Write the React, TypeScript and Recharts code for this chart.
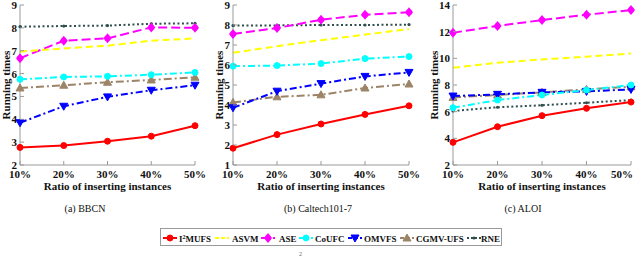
import React from 'react';
import { LineChart, Line, XAxis, YAxis } from 'recharts';

const categories = ['10%', '20%', '30%', '40%', '50%'];
const seriesNames = ['I²MUFS', 'ASVM', 'ASE', 'CoUFC', 'OMVFS', 'CGMV-UFS', 'RNE'];

// (a) BBCN
const bbcnI2MUFS = [2.77, 2.85, 3.04, 3.26, 3.72];
const bbcnASVM = [6.96, 7.1, 7.22, 7.44, 7.54];
const bbcnASE = [6.67, 7.44, 7.54, 8.02, 8.0];
const bbcnCoUFC = [5.75, 5.85, 5.88, 5.95, 6.05];
const bbcnOMVFS = [3.85, 4.57, 4.98, 5.27, 5.49];
const bbcnCGMV = [5.37, 5.49, 5.62, 5.72, 5.84];
const bbcnRNE = [8.05, 8.08, 8.1, 8.18, 8.2];

// (b) Caltech101-7
const calI2MUFS = [1.84, 2.52, 3.05, 3.53, 3.96];
const calASVM = [6.61, 6.94, 7.24, 7.52, 7.8];
const calASE = [7.55, 7.85, 8.26, 8.51, 8.64];
const calCoUFC = [5.94, 5.97, 6.07, 6.32, 6.42];
const calOMVFS = [3.86, 4.69, 5.07, 5.43, 5.63];
const calCGMV = [4.13, 4.41, 4.51, 4.85, 5.05];
const calRNE = [7.97, 7.98, 8.0, 8.0, 8.02];

// (c) ALOI
const aloiI2MUFS = [3.7, 4.87, 5.7, 6.25, 6.72];
const aloiASVM = [9.3, 9.67, 9.92, 10.12, 10.37];
const aloiASE = [11.92, 12.43, 12.87, 13.27, 13.62];
const aloiCoUFC = [6.3, 6.87, 7.25, 7.62, 8.0];
const aloiOMVFS = [7.17, 7.3, 7.45, 7.52, 7.67];
const aloiCGMV = [7.07, 7.25, 7.45, 7.67, 7.87];
const aloiRNE = [6.05, 6.33, 6.48, 6.67, 6.87];

const ticksA = [2, 3, 4, 5, 6, 7, 8, 9];
const ticksB = [1, 2, 3, 4, 5, 6, 7, 8, 9];
const ticksC = [2, 4, 6, 8, 10, 12, 14];

const FRAME = '#9a9a9a';
const FONT = 'Liberation Serif, Tinos, Times New Roman, serif';
const serif: any = { fontFamily: FONT };

const styles = [
  { color: '#ff0000', dash: undefined as string | undefined, marker: 'circle' },
  { color: '#ffff00', dash: '7 4', marker: 'none' },
  { color: '#ff00ff', dash: '9 4', marker: 'star' },
  { color: '#00ffff', dash: '7 3 2 3', marker: 'circle' },
  { color: '#0000ff', dash: '7 3 2 3', marker: 'tridown' },
  { color: '#9c8468', dash: '8 3 2 3', marker: 'triup' },
  { color: '#2f4f4f', dash: '2 2.5', marker: 'dot' },
];

function Marker({ cx, cy, kind, color }: any) {
  if (cx == null || cy == null) return null;
  switch (kind) {
    case 'circle':
      return <circle cx={cx} cy={cy} r={3} fill={color} stroke={color} />;
    case 'star':
      return (
        <g>
          <polygon points={`${cx},${cy - 5} ${cx + 4},${cy} ${cx},${cy + 5} ${cx - 4},${cy}`} fill={color} />
          <circle cx={cx} cy={cy} r={3} fill={color} />
        </g>
      );
    case 'tridown':
      return <polygon points={`${cx - 4},${cy - 3} ${cx + 4},${cy - 3} ${cx},${cy + 4}`} fill={color} stroke={color} />;
    case 'triup':
      return <polygon points={`${cx - 4},${cy + 3} ${cx + 4},${cy + 3} ${cx},${cy - 4}`} fill={color} stroke={color} />;
    case 'dot':
      return <circle cx={cx} cy={cy} r={1.6} fill={color} />;
    default:
      return null;
  }
}

const makeBottomTick = (squeezeLast: boolean) => (p: any) => {
  const last = squeezeLast && p.index === categories.length - 1;
  return (
    <g>
      <line x1={p.x} x2={p.x} y1={p.y} y2={p.y - 4} stroke={FRAME} />
      <text
        x={last ? p.x + 2 : p.x}
        y={p.y + 13}
        textAnchor={last ? 'end' : 'middle'}
        style={serif}
        fontWeight="bold"
        fontSize={11}
        fill="#111"
      >
        {p.payload.value}
      </text>
    </g>
  );
};
const TopTick = (p: any) => <line x1={p.x} x2={p.x} y1={p.y} y2={p.y + 4} stroke={FRAME} />;
const LeftTick = (p: any) => (
  <g>
    <line x1={p.x} x2={p.x + 4} y1={p.y} y2={p.y} stroke={FRAME} />
    <text x={p.x - 3} y={p.y + 4} textAnchor="end" style={serif} fontWeight="bold" fontSize={11} fill="#111">
      {p.payload.value}
    </text>
  </g>
);
const RightTick = (p: any) => <line x1={p.x} x2={p.x - 4} y1={p.y} y2={p.y} stroke={FRAME} />;

function Panel({ left, width, yWidth, domain, ticks, titleDx, caption, captionX, squeezeLast, series }: any) {
  const rows = categories.map((c, i) => {
    const r: any = { x: c };
    series.forEach((s: number[], k: number) => (r['s' + k] = s[i]));
    return r;
  });
  const plotLeft = yWidth;
  const plotRight = width - 15;
  const xCenter = (plotLeft + plotRight) / 2;
  return (
    <div style={{ position: 'absolute', left, top: 0 }}>
      <LineChart width={width} height={225} data={rows} margin={{ top: 5, right: 15, bottom: 5, left: 0 }}>
        <XAxis
          dataKey="x"
          xAxisId="b"
          height={55}
          interval={0}
          tickSize={0}
          tickMargin={0}
          tickLine={false}
          axisLine={{ stroke: FRAME }}
          tick={makeBottomTick(!!squeezeLast)}
          label={{
            content: (lp: any) => {
              const vb = lp.viewBox || {};
              const y0 = vb.y != null ? vb.y : 165;
              return (
                <g>
                  <text x={xCenter} y={y0 + 25} textAnchor="middle" style={serif} fontWeight="bold" fontSize={11} fill="#111">
                    Ratio of inserting instances
                  </text>
                  <text x={captionX} y={y0 + 47} textAnchor="middle" style={serif} fontSize={10} fill="#111">
                    {caption}
                  </text>
                </g>
              );
            },
          }}
        />
        <XAxis
          dataKey="x"
          xAxisId="t"
          orientation="top"
          height={0}
          interval={0}
          tickSize={0}
          tickMargin={0}
          tickLine={false}
          axisLine={{ stroke: FRAME }}
          tick={TopTick}
        />
        <YAxis
          yAxisId="l"
          type="number"
          width={yWidth}
          domain={domain}
          ticks={ticks}
          interval={0}
          allowDataOverflow
          tickSize={0}
          tickMargin={0}
          tickLine={false}
          axisLine={{ stroke: FRAME }}
          tick={LeftTick}
          label={{
            content: () => {
              const cx = plotLeft - titleDx;
              const cy = 85;
              return (
                <text
                  x={cx}
                  y={cy}
                  transform={`rotate(-90 ${cx} ${cy})`}
                  textAnchor="middle"
                  style={serif}
                  fontWeight="bold"
                  fontSize={11}
                  fill="#111"
                >
                  Running times
                </text>
              );
            },
          }}
        />
        <YAxis
          yAxisId="r"
          orientation="right"
          type="number"
          width={0}
          domain={domain}
          ticks={ticks}
          interval={0}
          allowDataOverflow
          tickSize={0}
          tickMargin={0}
          tickLine={false}
          axisLine={{ stroke: FRAME }}
          tick={RightTick}
        />
        {styles
          .map((st, k) => ({ st, k }))
          .reverse()
          .map(({ st, k }) => (
            <Line
              key={k}
              xAxisId="b"
              yAxisId="l"
              dataKey={'s' + k}
              name={seriesNames[k]}
              stroke={st.color}
              strokeWidth={2}
              strokeDasharray={st.dash}
              isAnimationActive={false}
              dot={(dp: any) => <Marker key={dp.index} cx={dp.cx} cy={dp.cy} kind={st.marker} color={st.color} />}
              activeDot={false}
            />
          ))}
      </LineChart>
    </div>
  );
}

const legendPos = [
  { lx: 2, tx: 18 },
  { lx: 54, tx: 71 },
  { lx: 100, tx: 118 },
  { lx: 138, tx: 154 },
  { lx: 187, tx: 203 },
  { lx: 239, tx: 255 },
  { lx: 306, tx: 320 },
];

function Legend() {
  return (
    <div
      style={{
        position: 'absolute',
        left: 160,
        top: 228,
        width: 342,
        height: 18,
        border: `1px solid ${FRAME}`,
        background: '#fff',
        boxSizing: 'border-box',
      }}
    >
      <svg width={342} height={18} style={{ position: 'absolute', left: 0, top: 0 }}>
        {styles.map((st, k) => (
          <g key={k}>
            <line
              x1={legendPos[k].lx}
              x2={legendPos[k].lx + 14}
              y1={9}
              y2={9}
              stroke={st.color}
              strokeWidth={2}
              strokeDasharray={st.dash ? (k === 6 ? '2 2' : '4 2') : undefined}
            />
            <Marker cx={legendPos[k].lx + 7} cy={9} kind={st.marker} color={st.color} />
            <text x={legendPos[k].tx} y={12.5} style={serif} fontWeight="bold" fontSize={9} fill="#111">
              {k === 0 ? (
                <>
                  I<tspan fontSize={6} dy={-3}>2</tspan>
                  <tspan dy={3}>MUFS</tspan>
                </>
              ) : (
                seriesNames[k]
              )}
            </text>
          </g>
        ))}
      </svg>
    </div>
  );
}

export default function App() {
  return (
    <div style={{ position: 'absolute', left: 0, top: 0, width: 640, height: 265, background: '#fff', overflow: 'hidden', fontFamily: FONT }}>
      <Panel
        left={0}
        width={210}
        yWidth={20}
        domain={[2, 9]}
        ticks={ticksA}
        titleDx={10}
        caption="(a) BBCN"
        captionX={85}
        series={[bbcnI2MUFS, bbcnASVM, bbcnASE, bbcnCoUFC, bbcnOMVFS, bbcnCGMV, bbcnRNE]}
      />
      <Panel
        left={213}
        width={211}
        yWidth={20}
        domain={[1, 9]}
        ticks={ticksB}
        titleDx={10}
        caption="(b) Caltech101-7"
        captionX={105}
        series={[calI2MUFS, calASVM, calASE, calCoUFC, calOMVFS, calCGMV, calRNE]}
      />
      <Panel
        left={428}
        width={218}
        yWidth={25}
        domain={[2, 14]}
        ticks={ticksC}
        titleDx={15}
        caption="(c) ALOI"
        captionX={95}
        squeezeLast
        series={[aloiI2MUFS, aloiASVM, aloiASE, aloiCoUFC, aloiOMVFS, aloiCGMV, aloiRNE]}
      />
      <Legend />
      <div style={{ position: 'absolute', left: 299, top: 251, fontFamily: FONT, fontSize: 6, color: '#666' }}>2</div>
    </div>
  );
}
